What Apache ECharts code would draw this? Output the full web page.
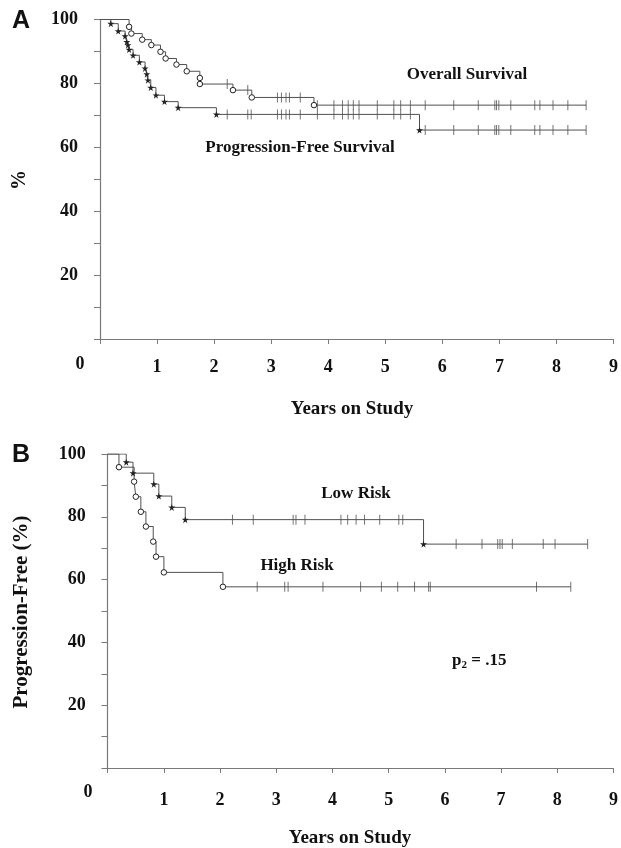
<!DOCTYPE html>
<html>
<head>
<meta charset="utf-8">
<script src="https://cdn.jsdelivr.net/npm/echarts@6/dist/echarts.min.js"></script>
<style>
html,body{margin:0;padding:0;background:#fff;}
#chart{width:621px;height:848px;}
</style>
</head>
<body>
<div id="chart"></div>
<script>
// ---------- Data (years on study, percent) ----------
// Panel A: Overall Survival (circles)
const osEventTimes  = [0.51,0.55,0.74,0.90,1.06,1.15,1.34,1.52,1.75,1.75,2.33,2.66,3.75];
const osEventValues = [97.7,95.6,93.7,92.0,89.9,87.8,85.9,83.8,81.7,79.8,77.9,75.6,73.2];
const osCensorTimes = [2.23,2.59,3.11,3.18,3.26,3.32,3.51,3.81,4.10,4.25,4.35,4.44,4.54,4.86,5.15,5.27,5.44,5.70,6.20,6.63,6.92,6.95,6.99,7.20,7.62,7.71,7.94,8.20,8.52];
// Panel A: Progression-Free Survival (stars)
const pfsEventTimes  = [0.19,0.32,0.44,0.47,0.49,0.51,0.58,0.69,0.79,0.82,0.84,0.89,0.98,1.13,1.37,2.04,5.60];
const pfsEventValues = [98.7,96.4,94.8,93.0,92.0,90.6,88.8,86.7,84.7,82.9,81.0,78.7,76.3,74.3,72.4,70.3,65.4];
const pfsCensorTimes = [2.23,2.59,2.65,3.11,3.18,3.26,3.32,3.51,3.81,4.10,4.25,4.35,4.44,4.54,4.86,5.15,5.27,5.44,5.70,6.20,6.63,6.92,6.95,6.99,7.20,7.62,7.71,7.94,8.20,8.52];
// Panel B: Low Risk (stars)
const lowEventTimes  = [0.33,0.45,0.82,0.91,1.14,1.38,5.62];
const lowEventValues = [97.4,93.9,90.4,86.6,83.0,79.1,71.3];
const lowCensorTimes = [2.22,2.59,3.30,3.35,3.51,4.15,4.27,4.42,4.57,4.84,5.18,5.25,6.20,6.66,6.94,6.98,7.02,7.20,7.75,7.96,8.54];
// Panel B: High Risk (circles)
const highEventTimes  = [0.20,0.47,0.50,0.59,0.68,0.81,0.86,1.00,2.05];
const highEventValues = [95.8,91.2,86.4,81.6,76.9,72.1,67.3,62.3,57.7];
const highCensorTimes = [2.66,3.15,3.21,3.83,4.50,4.87,5.16,5.46,5.71,5.74,7.63,8.24];

// Axis ticks
const xTicks = [0,1,2,3,4,5,6,7,8,9];
const yTickStep = 10;
const yLabelStep = 20;

// ---------- Helpers ----------
const SERIF = '"Liberation Serif","Times New Roman",serif';
const SANS = '"Liberation Sans",Arial,sans-serif';
const LINE = '#505050';
const AXIS = '#7a7a7a';
const STAR = 'path://M50,0 L61,35 L98,35 L68,57 L79,91 L50,70 L21,91 L32,57 L2,35 L39,35 Z';

function kmAt(times, values, t) {
  let v = 100;
  for (let i = 0; i < times.length; i++) { if (times[i] <= t) v = values[i]; }
  return v;
}
function curveData(times, values, censor) {
  const d = [{value:[0,100], symbol:'none'}];
  times.forEach((t,i) => d.push({value:[t, values[i]]}));
  const last = censor[censor.length-1];
  d.push({value:[last, kmAt(times, values, last)], symbol:'none'});
  return d;
}
function censorData(times, values, censor) {
  return censor.map(t => [t, kmAt(times, values, t)]);
}
function xAxes(grid, margin) {
  const base = {type:'value', gridIndex:grid, min:xTicks[0], max:xTicks[xTicks.length-1], interval:1,
    splitLine:{show:false}};
  return [
    Object.assign({}, base, {
      axisLine:{show:true, lineStyle:{color:AXIS, width:1.2}},
      axisTick:{show:true, length:5, lineStyle:{color:AXIS}},
      axisLabel:{margin:margin, color:'#111', fontFamily:SERIF, fontWeight:'bold', fontSize:18,
        formatter: v => v === 0 ? '' : String(v)}
    }),
    Object.assign({}, base, {
      axisLine:{show:false}, axisTick:{show:true, inside:true, length:5, lineStyle:{color:AXIS}},
      axisLabel:{show:false}
    })
  ];
}
function yAxes(grid) {
  const base = {type:'value', gridIndex:grid, min:0, max:100, interval:yTickStep, splitLine:{show:false}};
  return [
    Object.assign({}, base, {
      axisLine:{show:true, lineStyle:{color:AXIS, width:1.2}},
      axisTick:{show:true, length:6, lineStyle:{color:AXIS}},
      axisLabel:{margin:22, color:'#111', fontFamily:SERIF, fontWeight:'bold', fontSize:18,
        formatter: v => (v > 0 && v % yLabelStep === 0) ? String(v) : ''}
    }),
    Object.assign({}, base, {
      axisLine:{show:false}, axisTick:{show:true, inside:true, length:6, lineStyle:{color:AXIS}},
      axisLabel:{show:false}
    })
  ];
}
function curve(xi, yi, times, values, censor, marker, size) {
  const ring = marker === 'circle';
  return [
    {type:'line', xAxisIndex:xi, yAxisIndex:yi, step:'end', data:curveData(times, values, censor),
      symbol: marker, symbolSize: size, showSymbol:true,
      lineStyle:{color:LINE, width:1},
      itemStyle: ring ? {color:'#fff', borderColor:'#222', borderWidth:1} : {color:'#222', borderWidth:0},
      z:3},
    {type:'scatter', xAxisIndex:xi, yAxisIndex:yi, data:censorData(times, values, censor),
      symbol:'rect', symbolSize:[1, 10], itemStyle:{color:LINE}, z:2}
  ];
}
function txt(x, y, s, size, opts) {
  return Object.assign({type:'text', x:x, y:y,
    style:{text:s, fill:'#111', font:'bold ' + size + 'px ' + SERIF, textAlign:'center', textVerticalAlign:'middle'}}, opts || {});
}

const chart = echarts.init(document.getElementById('chart'), null, {renderer:'canvas'});
const xa = xAxes(0, 19).concat(xAxes(1, 23));
const ya = yAxes(0).concat(yAxes(1));

chart.setOption({
  animation:false,
  backgroundColor:'#fff',
  grid:[
    {left:100, right:5, top:19.5, height:319.5},
    {left:107.7, right:6.6, top:454, height:314}
  ],
  xAxis: xa,
  yAxis: ya,
  series: [].concat(
    curve(0, 0, osEventTimes, osEventValues, osCensorTimes, 'circle', 5.5),
    curve(0, 0, pfsEventTimes, pfsEventValues, pfsCensorTimes, STAR, 7),
    curve(2, 2, lowEventTimes, lowEventValues, lowCensorTimes, STAR, 7),
    curve(2, 2, highEventTimes, highEventValues, highCensorTimes, 'circle', 5.5)
  ),
  graphic: [
    {type:'text', x:12, y:9, style:{text:'A', fill:'#111', font:'bold 25px ' + SANS}},
    {type:'text', x:12, y:443, style:{text:'B', fill:'#111', font:'bold 25px ' + SANS}},
    txt(20, 180, '%', 20, {rotation:Math.PI/2}),
    txt(22, 612, 'Progression-Free (%)', 21, {rotation:Math.PI/2}),
    txt(467, 75, 'Overall Survival', 17),
    txt(300, 148, 'Progression-Free Survival', 17),
    txt(80, 364, '0', 18),
    txt(88, 792, '0', 18),
    txt(352, 409, 'Years on Study', 19),
    txt(350, 838, 'Years on Study', 19),
    txt(356, 494, 'Low Risk', 17),
    txt(297, 566, 'High Risk', 17),
    {type:'text', x:452, y:650, style:{rich:{n:{font:'bold 17px ' + SERIF, fill:'#111'}, s:{font:'bold 11px ' + SERIF, fill:'#111', padding:[10,0,0,0]}},
      text:'{n|p}{s|2}{n| = .15}'}}
  ]
});
</script>
</body>
</html>
